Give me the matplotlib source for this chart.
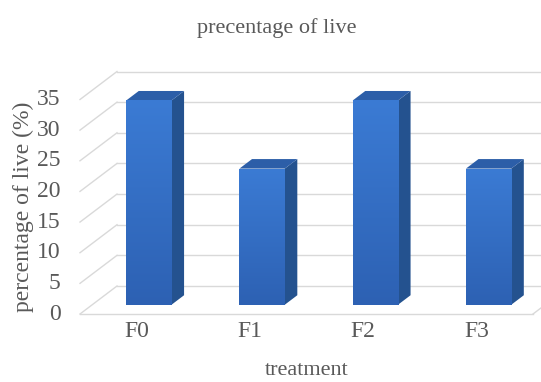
import matplotlib
matplotlib.use("Agg")
import matplotlib.pyplot as plt
from matplotlib.patches import Polygon
from matplotlib.colors import LinearSegmentedColormap
import numpy as np

# Data
categories = ["F0", "F1", "F2", "F3"]
values = [33.33, 22.22, 33.33, 22.22]
y_ticks = [0, 5, 10, 15, 20, 25, 30, 35]

title = "precentage of live"
x_label = "treatment"
y_label = "percentage of live (%)"

# Figure / axes (axes box = front plane of the 3-D box)
W, H = 541, 382
fig = plt.figure(figsize=(W / 100, H / 100), dpi=100)
ax_left, ax_right = 80, 533
ax_bottom_px, ax_top_px = 314, 99.5
ax = fig.add_axes([ax_left / W, 1 - ax_bottom_px / H,
                   (ax_right - ax_left) / W, (ax_bottom_px - ax_top_px) / H])
ax.set_xlim(-0.5, len(categories) - 0.5)
ax.set_ylim(0, 35)
for s in ax.spines.values():
    s.set_visible(False)
ax.patch.set_visible(False)

font = "Liberation Serif"
txt_col = "#595959"
grid_col = "#D9D9D9"

# Depth of the box, in data units
px_per_x = (ax_right - ax_left) / len(categories)
px_per_v = (ax_bottom_px - ax_top_px) / 35
depth_dx = 37 / px_per_x
depth_dy = 28 / px_per_v

x0, x1 = -0.5, len(categories) - 0.5

# Back wall gridlines and side wall lines
for v in y_ticks:
    ax.plot([x0 + depth_dx, x1 + depth_dx + 0.2], [v + depth_dy, v + depth_dy],
            color=grid_col, lw=1.0, clip_on=False, zorder=1)
    ax.plot([x0, x0 + depth_dx], [v, v + depth_dy],
            color=grid_col, lw=1.0, clip_on=False, zorder=1)
# floor front edge and right edge
ax.plot([x0, x1], [0, 0], color=grid_col, lw=1.0, clip_on=False, zorder=1)
ax.plot([x1, x1 + depth_dx], [0, depth_dy], color=grid_col, lw=1.0,
        clip_on=False, zorder=1)

# Bars: front face via ax.bar, plus top and side faces
f1, f2 = 0.33, 0.67
bw = 0.40
xs = np.arange(len(categories))
off_x1, off_y1 = f1 * depth_dx, f1 * depth_dy
sd_x, sd_y = (f2 - f1) * depth_dx, (f2 - f1) * depth_dy

side_col = "#24528F"
top_col = "#2C5EA8"
front_cmap = LinearSegmentedColormap.from_list("front", ["#2D61B3", "#3B7BD4"])

bars = ax.bar(xs + off_x1, values, width=bw, bottom=off_y1, color="#336FC8",
              edgecolor="none", zorder=4, clip_on=False)
grad = np.linspace(0, 1, 256).reshape(-1, 1)
for xi, v, bar in zip(xs, values, bars):
    l = xi + off_x1 - bw / 2
    r = xi + off_x1 + bw / 2
    b = off_y1
    t = off_y1 + v
    im = ax.imshow(grad, cmap=front_cmap, origin="lower", aspect="auto",
                   extent=[l, r, b, t], zorder=4.5)
    im.set_clip_path(bar)
    side = Polygon([[r, b], [r + sd_x, b + sd_y], [r + sd_x, t + sd_y], [r, t]],
                   closed=True, facecolor=side_col, edgecolor="none",
                   zorder=3, clip_on=False)
    top = Polygon([[l, t], [r, t], [r + sd_x, t + sd_y], [l + sd_x, t + sd_y]],
                  closed=True, facecolor=top_col, edgecolor="none",
                  zorder=3, clip_on=False)
    ax.add_patch(side)
    ax.add_patch(top)

ax.set_xlim(-0.5, len(categories) - 0.5)
ax.set_ylim(0, 35)

# Ticks
ax.set_yticks(y_ticks)
ax.set_yticklabels([str(t) for t in y_ticks], fontfamily=font, fontsize=17,
                   color=txt_col, va="center")
ax.set_xticks(xs)
ax.set_xticklabels(categories, fontfamily=font, fontsize=17, color=txt_col)
ax.tick_params(axis="both", length=0)
ax.tick_params(axis="y", pad=14)
ax.tick_params(axis="x", pad=5)

ax.set_xlabel(x_label, fontfamily=font, fontsize=16, color=txt_col, labelpad=14)
ax.set_ylabel(y_label, fontfamily=font, fontsize=17, color=txt_col, labelpad=2)

fig.text(277 / W, 1 - 28 / H, title, fontfamily=font, fontsize=16,
         color=txt_col, ha="center", va="center")

fig.savefig("out.png", dpi=100, facecolor="white")
